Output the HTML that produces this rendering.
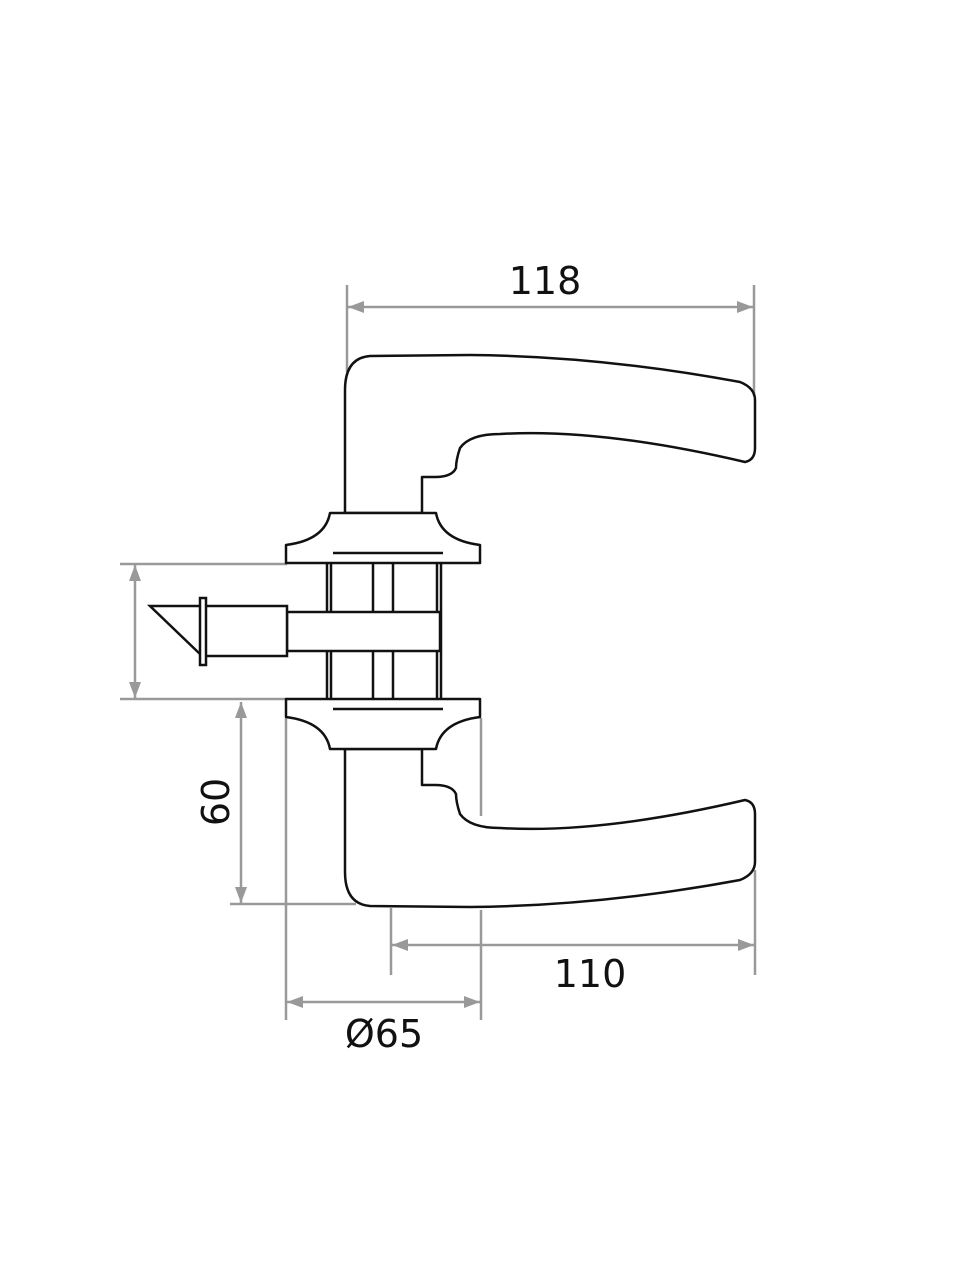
<!DOCTYPE html>
<html><head><meta charset="utf-8"><style>
html,body{margin:0;padding:0;background:#fff;width:960px;height:1280px;overflow:hidden}
svg{display:block}
text{font-family:"DejaVu Sans","Liberation Sans",sans-serif;fill:#111}
</style></head><body>
<svg width="960" height="1280" viewBox="0 0 960 1280" xmlns="http://www.w3.org/2000/svg">
<defs>
<g id="lever">
<path d="M345,513 L345,390 Q345,358 370,356 L470,355 Q600,356 740,382 Q755,388 755,400 L755,448 Q755,460 745,462 Q600,428 500,434 Q470,434 460,448 Q456,460 456,468 Q452,477 435,477 L422,477 L422,513" fill="none" stroke="#111" stroke-width="2.5" stroke-linejoin="round"/>
<path d="M343,513 L422,513" stroke="#111" stroke-width="2.5"/>
<path d="M330,513 L436,513 Q441,540 480,545 L480,563 L286,563 L286,545 Q325,540 330,513 Z" fill="#fff" stroke="#111" stroke-width="2.5" stroke-linejoin="round"/>
<line x1="333" y1="553" x2="443" y2="553" stroke="#111" stroke-width="2.5"/>
</g>
<marker id="ah" viewBox="0 0 16 12" refX="16" refY="6" markerWidth="16" markerHeight="12" markerUnits="userSpaceOnUse" orient="auto-start-reverse"><path d="M0,0 L16,6 L0,12 Z" fill="#999"/></marker>
</defs>

<g stroke="#999" stroke-width="2.5" fill="none">
<line x1="347" y1="285" x2="347" y2="372"/>
<line x1="754" y1="285" x2="754" y2="396"/>
<line x1="348" y1="307" x2="753" y2="307" marker-start="url(#ah)" marker-end="url(#ah)"/>
<line x1="120" y1="564" x2="287" y2="564"/>
<line x1="120" y1="699" x2="287" y2="699"/>
<line x1="135" y1="565" x2="135" y2="698" marker-start="url(#ah)" marker-end="url(#ah)"/>
<line x1="230" y1="904" x2="356" y2="904"/>
<line x1="241" y1="702" x2="241" y2="903" marker-start="url(#ah)" marker-end="url(#ah)"/>
<line x1="286" y1="718" x2="286" y2="1020"/>
<line x1="481" y1="718" x2="481" y2="816"/>
<line x1="481" y1="910" x2="481" y2="1020"/>
<line x1="287" y1="1002" x2="480" y2="1002" marker-start="url(#ah)" marker-end="url(#ah)"/>
<line x1="391" y1="908" x2="391" y2="975"/>
<line x1="755" y1="870" x2="755" y2="975"/>
<line x1="392" y1="945" x2="754" y2="945" marker-start="url(#ah)" marker-end="url(#ah)"/>
</g>

<use href="#lever"/>
<use href="#lever" transform="translate(0,1262) scale(1,-1)"/>

<g stroke="#111" stroke-width="2.5" fill="#fff">
<line x1="327" y1="563" x2="327" y2="700"/>
<line x1="331" y1="563" x2="331" y2="700"/>
<line x1="373" y1="563" x2="373" y2="700"/>
<line x1="393" y1="563" x2="393" y2="700"/>
<line x1="437" y1="563" x2="437" y2="700"/>
<line x1="441" y1="563" x2="441" y2="700"/>
<rect x="287" y="612" width="153" height="39"/>
<rect x="205" y="606" width="82" height="50"/>
<path d="M150,606 L201,606 L201,655 Z"/>
<rect x="200" y="598" width="6" height="67"/>
</g>

<text x="545" y="294" font-size="38" text-anchor="middle">118</text>
<text x="590" y="987" font-size="38" text-anchor="middle">110</text>
<text x="384" y="1047" font-size="38" text-anchor="middle">Ø65</text>
<text x="0" y="0" font-size="38" text-anchor="middle" transform="translate(229,802) rotate(-90)">60</text>
</svg>
</body></html>
